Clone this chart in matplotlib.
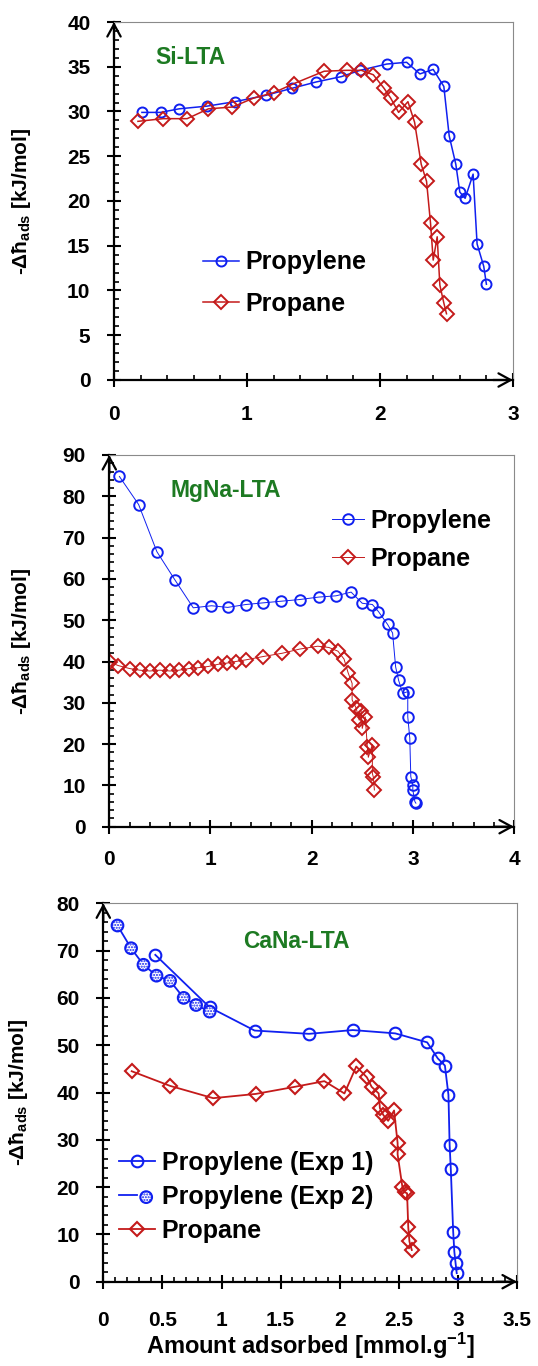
import matplotlib
matplotlib.use("Agg")
import matplotlib.pyplot as plt
from matplotlib.ticker import MultipleLocator, FuncFormatter
from matplotlib.legend_handler import HandlerTuple

plt.rcParams['font.family'] = ['Liberation Sans', 'DejaVu Sans']
plt.rcParams['font.weight'] = 'bold'
plt.rcParams['mathtext.default'] = 'regular'

# ---------------- data ----------------
si_propylene_x = [0.21, 0.35, 0.49, 0.70, 0.91, 1.14, 1.34, 1.52, 1.71, 1.85, 2.05, 2.20, 2.30, 2.40,
                  2.48, 2.52, 2.57, 2.60, 2.64, 2.70, 2.73, 2.78, 2.80]
si_propylene_y = [29.9, 29.9, 30.3, 30.6, 31.1, 31.8, 32.6, 33.3, 33.9, 34.6, 35.3, 35.5, 34.2, 34.7,
                  32.8, 27.3, 24.1, 21.0, 20.3, 23.0, 15.2, 12.7, 10.7]
si_propane_x = [0.18, 0.37, 0.55, 0.71, 0.89, 1.05, 1.20, 1.35, 1.58, 1.75, 1.86, 1.95, 2.03, 2.08,
                2.14, 2.21, 2.26, 2.31, 2.35, 2.38, 2.40, 2.43, 2.45, 2.48, 2.50]
si_propane_y = [28.9, 29.2, 29.2, 30.3, 30.5, 31.5, 32.1, 33.1, 34.5, 34.6, 34.6, 34.1, 32.6, 31.5,
                29.9, 31.1, 28.8, 24.1, 22.2, 17.5, 13.4, 16.0, 10.6, 8.6, 7.4]

mg_propylene_x = [0.10, 0.29, 0.47, 0.65, 0.83, 1.01, 1.17, 1.35, 1.52, 1.70, 1.88, 2.07, 2.24, 2.39,
                  2.50, 2.60, 2.66, 2.75, 2.80, 2.83, 2.86, 2.90, 2.95, 2.95, 2.97, 2.98, 3.00, 3.00,
                  3.02, 3.03]
mg_propylene_y = [84.8, 78.0, 66.6, 59.7, 53.0, 53.5, 53.1, 53.8, 54.2, 54.6, 55.0, 55.6, 55.9, 56.8,
                  54.1, 53.8, 52.1, 49.0, 46.9, 38.7, 35.4, 32.3, 32.7, 26.6, 21.4, 12.1, 10.1, 8.9,
                  6.1, 5.7]
mg_propane_x = [0.01, 0.09, 0.20, 0.30, 0.40, 0.50, 0.60, 0.69, 0.79, 0.88, 0.98, 1.07, 1.16, 1.25,
                1.35, 1.52, 1.71, 1.88, 2.06, 2.17, 2.26, 2.32, 2.36, 2.40, 2.40, 2.44, 2.47, 2.49,
                2.50, 2.53, 2.55, 2.56, 2.60, 2.60, 2.61, 2.62]
mg_propane_y = [39.8, 39.0, 38.3, 37.9, 37.7, 37.9, 37.7, 37.9, 38.3, 38.5, 38.8, 39.3, 39.6, 40.0,
                40.4, 41.2, 42.0, 43.0, 43.7, 43.4, 42.5, 40.6, 37.3, 34.7, 30.7, 28.7, 25.8, 27.9,
                23.8, 26.6, 19.4, 16.8, 19.9, 12.9, 12.0, 8.9]

ca_exp1_x = [0.44, 0.90, 1.28, 1.74, 2.11, 2.47, 2.74, 2.83, 2.89, 2.92, 2.93, 2.94, 2.96, 2.97, 2.98, 2.99]
ca_exp1_y = [69.1, 58.0, 53.1, 52.4, 53.2, 52.5, 50.6, 47.2, 45.7, 39.5, 28.9, 23.8, 10.6, 6.3, 4.0, 1.8]
ca_exp2_x = [0.12, 0.235, 0.34, 0.45, 0.565, 0.68, 0.785, 0.90]
ca_exp2_y = [75.3, 70.5, 67.0, 64.7, 63.6, 60.0, 58.5, 57.1]
ca_propane_x = [0.24, 0.565, 0.93, 1.29, 1.62, 1.87, 2.04, 2.14, 2.23, 2.27, 2.33, 2.34, 2.37, 2.41,
                2.46, 2.49, 2.49, 2.53, 2.55, 2.57, 2.58, 2.59, 2.61]
ca_propane_y = [44.5, 41.4, 38.8, 39.7, 41.2, 42.4, 39.8, 45.5, 43.2, 41.2, 39.8, 36.7, 35.2, 34.0,
                36.2, 29.3, 26.9, 20.1, 18.9, 18.7, 11.5, 8.5, 6.7]

titles = ["Si-LTA", "MgNa-LTA", "CaNa-LTA"]
ylabel = "-Δħ$_{\\mathregular{ads}}$ [kJ/mol]"
xlabel = "Amount adsorbed [mmol.g$^{\\mathregular{-1}}$]"

BLUE = '#1020f0'
RED = '#c41a1a'
GREEN = '#1d7a22'

TICK_FS = 15
LEG_FS = 18
TITLE_FS = 16.5
YLAB_FS = 15
XLAB_FS = 17

W, H = 538, 1366
fig = plt.figure(figsize=(W / 100, H / 100), dpi=100)


def px_axes(l, t, r, b):
    return fig.add_axes([l / W, 1 - b / H, (r - l) / W, (b - t) / H])


def style(ax, xmax, ymax, xmaj, xmin, ymaj, ymin, xpad, xfmt=None):
    ax.set_xlim(0, xmax)
    ax.set_ylim(0, ymax)
    ax.xaxis.set_major_locator(MultipleLocator(xmaj))
    ax.xaxis.set_minor_locator(MultipleLocator(xmin))
    ax.yaxis.set_major_locator(MultipleLocator(ymaj))
    ax.yaxis.set_minor_locator(MultipleLocator(ymin))
    for s in ['top', 'right']:
        ax.spines[s].set_color('#8a8a8a')
        ax.spines[s].set_linewidth(0.8)
    for s in ['left', 'bottom']:
        ax.spines[s].set_color('black')
        ax.spines[s].set_linewidth(1.6)
    ax.tick_params(which='major', direction='inout', length=10, width=1.5, labelsize=TICK_FS, color='black')
    ax.tick_params(which='minor', direction='in', length=3.8, width=1.2, color='black')
    ax.tick_params(axis='y', which='major', pad=12)
    ax.tick_params(axis='x', which='major', pad=xpad)
    ax.tick_params(which='both', top=False, right=False)
    for lab in ax.get_xticklabels() + ax.get_yticklabels():
        lab.set_fontweight('bold')
    if xfmt is not None:
        ax.xaxis.set_major_formatter(xfmt)
    ax.annotate('', xy=(0, 1.0), xytext=(0, 0.95), xycoords='axes fraction',
                arrowprops=dict(arrowstyle='->,head_length=0.55,head_width=0.3', lw=1.6,
                                color='black', mutation_scale=16, shrinkA=0, shrinkB=0),
                annotation_clip=False)
    ax.annotate('', xy=(1.0, 0), xytext=(0.95, 0), xycoords='axes fraction',
                arrowprops=dict(arrowstyle='->,head_length=0.55,head_width=0.3', lw=1.6,
                                color='black', mutation_scale=16, shrinkA=0, shrinkB=0),
                annotation_clip=False)
    ax.set_ylabel(ylabel, fontsize=YLAB_FS, fontweight='bold')


def fmt_num(v, pos):
    return ('%g' % v)


def ylab_at(ax, xpx):
    bb = ax.get_position()
    ax.yaxis.set_label_coords((xpx / W - bb.x0) / bb.width, 0.5)


def bold_legend(leg):
    for t in leg.get_texts():
        t.set_fontweight('bold')


# ---------------- panel 1 ----------------
ax1 = px_axes(114, 22, 513, 380)
style(ax1, 3, 40, 1, 0.2, 5, 1, xpad=13)
l1, = ax1.plot(si_propylene_x, si_propylene_y, '-o', color=BLUE, lw=1.1, ms=7.2, mew=1.4,
               mfc='none', mec=BLUE, label='Propylene')
l2, = ax1.plot(si_propane_x, si_propane_y, '-D', color=RED, lw=1.1, ms=7.0, mew=1.4,
               mfc='none', mec=RED, label='Propane')
ylab_at(ax1, 33)
bold_legend(ax1.legend(handles=[l1, l2], loc='center left', bbox_to_anchor=(203 / W, 1 - 283 / H),
                       bbox_transform=fig.transFigure, frameon=False, fontsize=LEG_FS, borderpad=0,
                       borderaxespad=0, handlelength=1.45, handletextpad=0.25, labelspacing=0.7))
fig.text(190 / W, 1 - 58 / H, titles[0], color=GREEN, fontsize=TITLE_FS, fontweight='bold',
         ha='center', va='center')

# ---------------- panel 2 ----------------
ax2 = px_axes(109.3, 455, 514, 826.7)
style(ax2, 4, 90, 1, 0.2, 10, 2, xpad=12)
m1, = ax2.plot(mg_propylene_x, mg_propylene_y, '-o', color=BLUE, lw=0.7, ms=7.6, mew=1.4,
               mfc='none', mec=BLUE, label='Propylene')
m2, = ax2.plot(mg_propane_x, mg_propane_y, '-D', color=RED, lw=0.7, ms=7.2, mew=1.4,
               mfc='none', mec=RED, label='Propane')
ylab_at(ax2, 33)
bold_legend(ax2.legend(handles=[m1, m2], loc='center left', bbox_to_anchor=(331.7 / W, 1 - 540 / H),
                       bbox_transform=fig.transFigure, frameon=False, fontsize=LEG_FS, borderpad=0,
                       borderaxespad=0, handlelength=1.3, handletextpad=0.25, labelspacing=0.55))
fig.text(225.5 / W, 1 - 491 / H, titles[1], color=GREEN, fontsize=TITLE_FS, fontweight='bold',
         ha='center', va='center')

# ---------------- panel 3 ----------------
ax3 = px_axes(103.3, 903.3, 517, 1281.7)
style(ax3, 3.5, 80, 0.5, 0.1, 10, 2, xpad=16, xfmt=FuncFormatter(fmt_num))
c1, = ax3.plot(ca_exp1_x, ca_exp1_y, '-o', color=BLUE, lw=1.3, ms=8.4, mew=1.5,
               mfc='none', mec=BLUE, label='Propylene (Exp 1)')
c2line, = ax3.plot(ca_exp2_x, ca_exp2_y, '-', color=BLUE, lw=1.3)
c2sc = ax3.scatter(ca_exp2_x, ca_exp2_y, s=8.4 ** 2, facecolor='white', edgecolor=BLUE,
                   linewidth=1.5, hatch='......', zorder=3)
c3, = ax3.plot(ca_propane_x, ca_propane_y, '-D', color=RED, lw=1.3, ms=7.6, mew=1.5,
               mfc='none', mec=RED, label='Propane')
ylab_at(ax3, 30)
ax3.set_xlabel(xlabel, fontsize=XLAB_FS, fontweight='bold')
bb3 = ax3.get_position()
ax3.xaxis.set_label_coords((310 / W - bb3.x0) / bb3.width, ((1 - 1346 / H) - bb3.y0) / bb3.height)
ax3.xaxis.label.set_va('center')
bold_legend(ax3.legend(handles=[c1, (c2line, c2sc), c3],
                       labels=['Propylene (Exp 1)', 'Propylene (Exp 2)', 'Propane'],
                       handler_map={tuple: HandlerTuple(ndivide=None, pad=0)},
                       loc='center left', bbox_to_anchor=(119 / W, 1 - 1196.7 / H),
                       bbox_transform=fig.transFigure, frameon=False, fontsize=LEG_FS, borderpad=0,
                       borderaxespad=0, handlelength=1.45, handletextpad=0.25, labelspacing=0.4,
                       scatterpoints=1))
fig.text(296 / W, 1 - 942 / H, titles[2], color=GREEN, fontsize=TITLE_FS, fontweight='bold',
         ha='center', va='center')

fig.savefig('out.png', dpi=100)
